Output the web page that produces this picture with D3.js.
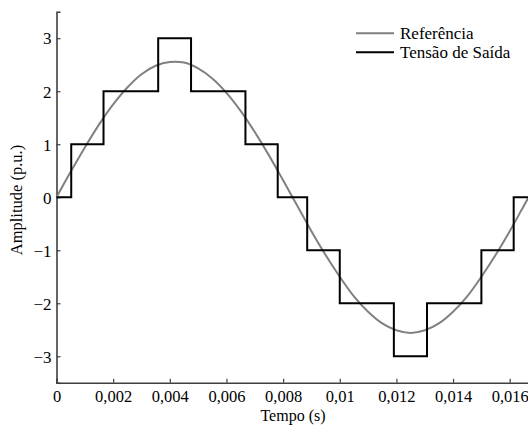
<!DOCTYPE html>
<html>
<head>
<meta charset="utf-8">
<script src="https://cdn.jsdelivr.net/npm/d3@7"></script>
<style>
  body { margin: 0; background: #fff; }
  svg { display: block; }
  text { font-family: "Liberation Serif", "Times New Roman", serif; fill: #000; }
</style>
</head>
<body>
<svg id="chart" width="528" height="425"></svg>
<script>
// Reference sine, time in seconds
const refTime = [0,0.0005,0.001,0.0015,0.002,0.0025,0.003,0.0035,0.004,0.0045,0.005,0.0055,0.006,0.0065,0.007,0.0075,0.008,0.0085,0.009,0.0095,0.01,0.0105,0.011,0.0115,0.012,0.0125,0.013,0.0135,0.014,0.0145,0.015,0.0155,0.016,0.0165,0.016667];
const refValue = [0,0.48,0.94,1.37,1.75,2.07,2.32,2.48,2.55,2.54,2.43,2.24,1.97,1.63,1.23,0.79,0.32,-0.16,-0.64,-1.09,-1.50,-1.87,-2.16,-2.38,-2.51,-2.56,-2.51,-2.38,-2.16,-1.87,-1.50,-1.09,-0.64,-0.16,0];

// Output voltage staircase: step start times and levels
const stepTime = [0,0.00052,0.00166,0.00359,0.00475,0.00667,0.00781,0.00885,0.0100,0.01191,0.01308,0.0150,0.01614,0.016667];
const stepLevel = [0,1,2,3,2,1,0,-1,-2,-3,-2,-1,0,0];

const xTicks = [0,0.002,0.004,0.006,0.008,0.01,0.012,0.014,0.016];
const yTicks = [-3,-2,-1,0,1,2,3];
const seriesNames = ["Referência","Tensão de Saída"];

const svg = d3.select("#chart");
const x = d3.scaleLinear().domain([0, 1/60]).range([56.5, 528.6]);
const y = d3.scaleLinear().domain([-3.5, 3.5]).range([382.8, 11.7]);

const fmtX = d => d === 0 ? "0" : String(+d.toFixed(3)).replace(".", ",");
const fmtY = d => d < 0 ? "\u2212" + Math.abs(d) : String(d);

// axes
const axisColor = "#404040";
const xAxis = svg.append("g").attr("transform", `translate(0,${y(-3.5)})`)
  .call(d3.axisBottom(x).tickValues(xTicks).tickSize(-4).tickPadding(0).tickFormat(fmtX));
xAxis.select(".domain").attr("stroke", axisColor).attr("stroke-width", 1.6);
xAxis.selectAll(".tick line").attr("stroke", axisColor).attr("stroke-width", 1.2);
xAxis.selectAll(".tick text").attr("y", 19.5).attr("dy", 0).attr("font-size", 16.5)
  .style("font-family", "'Liberation Serif', serif").attr("fill", "#000");

const yAxis = svg.append("g").attr("transform", `translate(${x(0)},0)`)
  .call(d3.axisLeft(y).tickValues(yTicks).tickSize(-4).tickPadding(0).tickFormat(fmtY));
yAxis.select(".domain").attr("stroke", axisColor).attr("stroke-width", 1.6);
yAxis.selectAll(".tick line").attr("stroke", axisColor).attr("stroke-width", 1.2);
yAxis.selectAll(".tick text").attr("x", -5).attr("dy", "0.34em").attr("font-size", 17)
  .style("font-family", "'Liberation Serif', serif").attr("fill", "#000");

// lines
const refLine = d3.line().x(d => x(d[0])).y(d => y(d[1])).curve(d3.curveCatmullRom);
svg.append("path")
  .datum(refTime.map((t, i) => [t, refValue[i]]))
  .attr("d", refLine).attr("fill", "none").attr("stroke", "#808080").attr("stroke-width", 2);

const stepLine = d3.line().x(d => x(d[0])).y(d => y(d[1])).curve(d3.curveStepAfter);
svg.append("path")
  .datum(stepTime.map((t, i) => [t, stepLevel[i]]))
  .attr("d", stepLine).attr("fill", "none").attr("stroke", "#000").attr("stroke-width", 2)
  .attr("stroke-linejoin", "miter");

// axis titles
svg.append("text").attr("x", 293).attr("y", 421).attr("text-anchor", "middle")
  .attr("font-size", 16).text("Tempo (s)");
svg.append("text").attr("transform", `translate(22,200) rotate(-90)`)
  .attr("text-anchor", "middle").attr("font-size", 16.5).text("Amplitude (p.u.)");

// legend
const legColors = ["#808080", "#000"];
seriesNames.forEach((name, i) => {
  const yy = 33.3 + i * 19;
  svg.append("line").attr("x1", 356).attr("x2", 394).attr("y1", yy).attr("y2", yy)
    .attr("stroke", legColors[i]).attr("stroke-width", 2);
  svg.append("text").attr("x", 400).attr("y", yy + 5.5).attr("font-size", 17).text(name);
});
</script>
</body>
</html>
